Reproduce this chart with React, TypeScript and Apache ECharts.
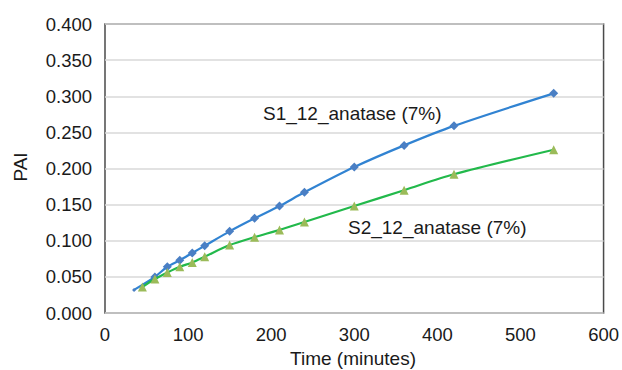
import React, { useEffect, useRef } from "react";
import * as echarts from "echarts";

const s1Time = [35, 60, 75, 90, 105, 120, 150, 180, 210, 240, 300, 360, 420, 540];
const s1Pai = [0.032, 0.05, 0.064, 0.073, 0.083, 0.093, 0.113, 0.131, 0.148, 0.167, 0.202, 0.232, 0.259, 0.304];
const s2Time = [45, 60, 75, 90, 105, 120, 150, 180, 210, 240, 300, 360, 420, 540];
const s2Pai = [0.036, 0.047, 0.056, 0.064, 0.07, 0.078, 0.094, 0.105, 0.115, 0.126, 0.148, 0.17, 0.192, 0.226];
const seriesNames = ["S1_12_anatase (7%)", "S2_12_anatase (7%)"];
const xTitle = "Time (minutes)";
const yTitle = "PAI";

const FONT = "'Liberation Sans', Arial, sans-serif";

export default function App() {
  const ref = useRef<HTMLDivElement>(null);
  useEffect(() => {
    if (!ref.current) return;
    const chart = echarts.init(ref.current, undefined, { renderer: "svg" });
    const left = 105, top = 24, right = 607, bottom = 313;
    chart.setOption({
      animation: false,
      backgroundColor: "#ffffff",
      grid: {
        left,
        top,
        width: right - left,
        height: bottom - top,
        show: true,
        borderColor: "#4a4a4a",
        borderWidth: 1.5,
        containLabel: false,
      },
      xAxis: {
        type: "value",
        min: 0,
        max: 600,
        interval: 100,
        axisLine: { show: false },
        axisTick: { show: false },
        splitLine: { show: false },
        axisLabel: { color: "#1a1a1a", fontSize: 18.5, fontFamily: FONT, margin: 12 },
      },
      yAxis: {
        type: "value",
        min: 0,
        max: 0.4,
        interval: 0.05,
        axisLine: { show: false },
        axisTick: { show: false },
        splitLine: { show: true, lineStyle: { color: "#d9d9d9", width: 1.5 } },
        axisLabel: {
          color: "#1a1a1a",
          fontSize: 18.5,
          fontFamily: FONT,
          margin: 13,
          formatter: (v: number) => v.toFixed(3),
        },
      },
      series: [
        {
          name: seriesNames[0],
          type: "line",
          smooth: 0.3,
          data: s1Time.map((t, i) => (i === 0 ? { value: [t, s1Pai[i]], symbolSize: 4 } : [t, s1Pai[i]])),
          symbol: "diamond",
          symbolSize: 9,
          lineStyle: { color: "#3183d2", width: 2.2 },
          itemStyle: { color: "#4a7fc4" },
          z: 2,
        },
        {
          name: seriesNames[1],
          type: "line",
          smooth: 0.3,
          data: s2Time.map((t, i) => [t, s2Pai[i]]),
          symbol: "triangle",
          symbolSize: 9,
          lineStyle: { color: "#22b94b", width: 2.2 },
          itemStyle: { color: "#9bbb59" },
          z: 3,
        },
      ],
      graphic: [
        {
          type: "text",
          x: 263,
          y: 113,
          style: { text: seriesNames[0], fontSize: 19, fontFamily: FONT, fill: "#1a1a1a", verticalAlign: "middle" },
        },
        {
          type: "text",
          x: 348,
          y: 227,
          style: { text: seriesNames[1], fontSize: 19, fontFamily: FONT, fill: "#1a1a1a", verticalAlign: "middle" },
        },
        {
          type: "text",
          x: 353,
          y: 358,
          style: { text: xTitle, fontSize: 19, fontFamily: FONT, fill: "#1a1a1a", align: "center", verticalAlign: "middle" },
        },
        {
          type: "text",
          x: 20,
          y: 167,
          rotation: Math.PI / 2,
          style: { text: yTitle, fontSize: 19, fontFamily: FONT, fill: "#1a1a1a", align: "center", verticalAlign: "middle" },
        },
      ],
    });
    return () => chart.dispose();
  }, []);
  return <div ref={ref} style={{ position: "absolute", left: 0, top: 0, width: 622, height: 370 }} />;
}
